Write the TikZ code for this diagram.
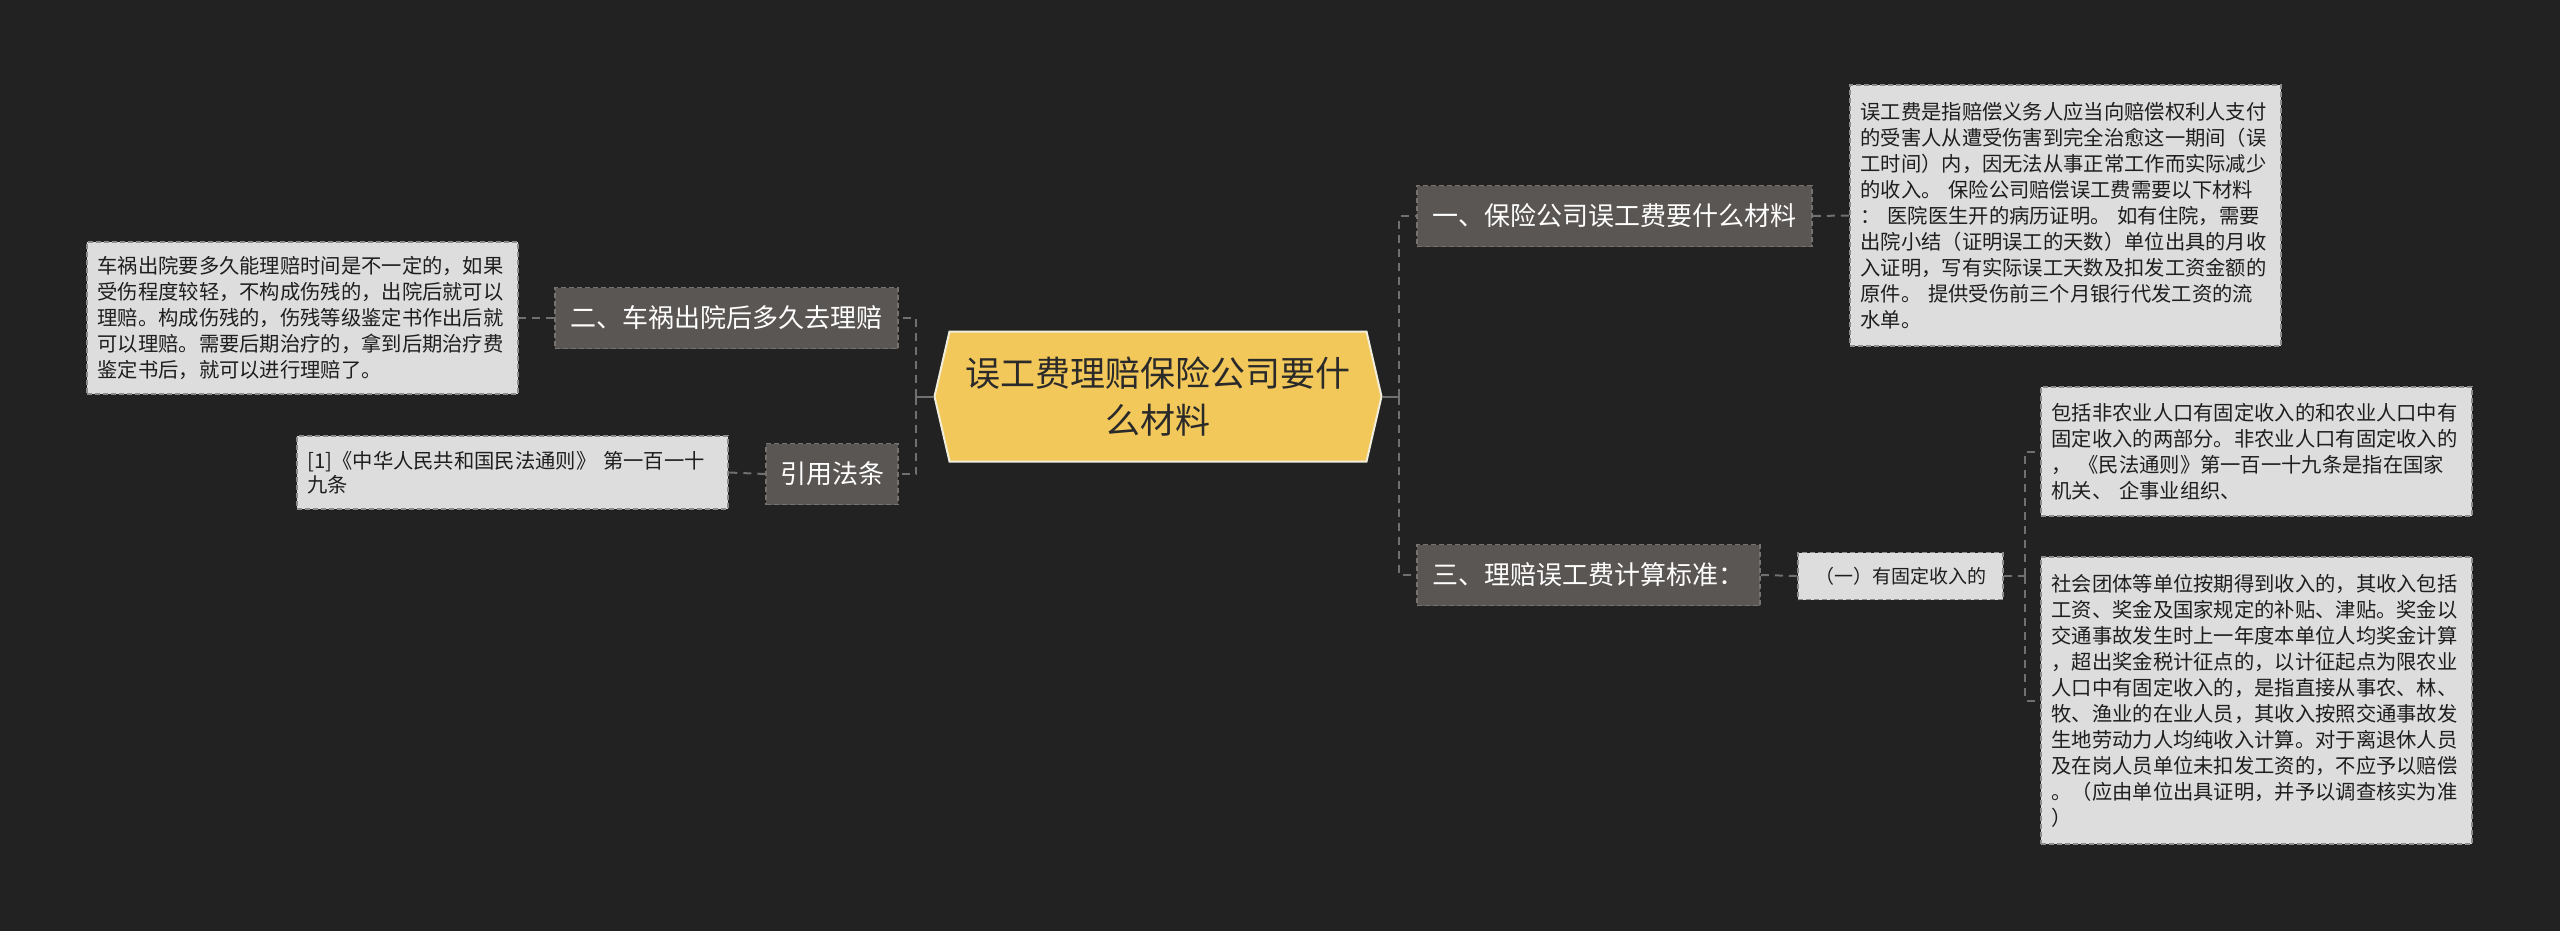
\documentclass[tikz,border=0pt]{standalone}
\usepackage{fontspec}
\setmainfont{Noto Sans CJK SC}
\usepackage{xcolor}
\usepackage{tikz}
\usetikzlibrary{shapes.symbols}
\definecolor{bgdark}{HTML}{222222}
\definecolor{rootfill}{HTML}{F3C85B}
\definecolor{rootline}{HTML}{F2EEDC}
\definecolor{rootink}{HTML}{2A2A2A}
\definecolor{branchfill}{HTML}{5A5654}
\definecolor{branchline}{HTML}{76726F}
\definecolor{leaffill}{HTML}{DDDDDD}
\definecolor{leafline}{HTML}{8C8C8C}
\definecolor{leafink}{HTML}{1E1E1E}
\definecolor{linkgray}{HTML}{707070}

\begin{document}
\begin{tikzpicture}[x=1pt, y=-1pt,
    root/.style={shape=signal, signal to=west and east, signal pointer angle=154,
      fill=rootfill, draw=rootline, line width=2pt, text=rootink, align=center,
      font=\fontsize{35}{47}\selectfont, minimum width=447pt, minimum height=130pt, inner sep=0pt},
    branch/.style={fill=branchfill, draw=branchline, dash pattern=on 5pt off 3pt, line width=1.5pt,
      text=white, font=\fontsize{26}{30}\selectfont, minimum height=61pt, inner sep=0pt},
    leaf/.style={fill=leaffill, draw=leafline, dash pattern=on 5pt off 3pt, line width=1.5pt,
      text=leafink, font=\fontsize{20.3}{26}\selectfont, align=left, text width=410pt,
      inner xsep=10.5pt, inner ysep=10pt},
    link/.style={draw=linkgray, line width=2pt, dash pattern=on 8pt off 6pt}
]

  % Hintergrund
  \fill[bgdark] (0,0) rectangle (2560,931);

  % Hauptthema
  \node[root] (titel) at (1158,396.5) {误工费理赔保险公司要什\\么材料};

  % Aeste rechts
  \node[branch, minimum width=395pt] (ast1) at (1614.5,216) {一、保险公司误工费要什么材料};
  \node[branch, minimum width=343pt] (ast3) at (1588.5,575) {三、理赔误工费计算标准：};
  \node[leaf, text width=, align=center, font=\fontsize{19}{22}\selectfont,
        minimum width=205pt, minimum height=47pt, inner sep=0pt] (fest) at (1900.5,576) {（一）有固定收入的};

  % Aeste links
  \node[branch, minimum width=343pt] (ast2) at (726.5,318) {二、车祸出院后多久去理赔};
  \node[branch, minimum width=132pt] (quelle) at (832,474) {引用法条};

  % Texte rechts
  \node[leaf, minimum height=261pt] (info1) at (2065.5,215.5) {误工费是指赔偿义务人应当向赔偿权利人支付\\的受害人从遭受伤害到完全治愈这一期间（误\\工时间）内，因无法从事正常工作而实际减少\\的收入。 保险公司赔偿误工费需要以下材料\\： 医院医生开的病历证明。 如有住院，需要\\出院小结（证明误工的天数）单位出具的月收\\入证明，写有实际误工天数及扣发工资金额的\\原件。 提供受伤前三个月银行代发工资的流\\水单。};
  \node[leaf, minimum height=129pt] (info2) at (2256.5,451.5) {包括非农业人口有固定收入的和农业人口中有\\固定收入的两部分。非农业人口有固定收入的\\， 《民法通则》第一百一十九条是指在国家\\机关、 企事业组织、};
  \node[leaf, minimum height=287pt] (info3) at (2256.5,700.5) {社会团体等单位按期得到收入的，其收入包括\\工资、奖金及国家规定的补贴、津贴。奖金以\\交通事故发生时上一年度本单位人均奖金计算\\，超出奖金税计征点的，以计征起点为限农业\\人口中有固定收入的，是指直接从事农、林、\\牧、渔业的在业人员，其收入按照交通事故发\\生地劳动力人均纯收入计算。对于离退休人员\\及在岗人员单位未扣发工资的，不应予以赔偿\\。（应由单位出具证明，并予以调查核实为准\\）};

  % Texte links
  \node[leaf, minimum height=152pt] (info4) at (302.5,318) {车祸出院要多久能理赔时间是不一定的，如果\\受伤程度较轻，不构成伤残的，出院后就可以\\理赔。构成伤残的，伤残等级鉴定书作出后就\\可以理赔。需要后期治疗的，拿到后期治疗费\\鉴定书后，就可以进行理赔了。};
  \node[leaf, minimum height=73pt, font=\fontsize{20.3}{24}\selectfont] (info5) at (512.5,472.5) {[1]《中华人民共和国民法通则》 第一百一十\\九条};

  % Verbindungen
  \coordinate (rechts) at (1399,396.5);
  \coordinate (links) at (916,396.5);
  \coordinate (gabel) at (2025,576);
  \draw[draw=linkgray, line width=2pt] (titel.east) -- (rechts);
  \draw[draw=linkgray, line width=2pt] (titel.west) -- (links);
  \draw[link] (rechts) |- (ast1.west);
  \draw[link] (rechts) |- (ast3.west);
  \draw[link] (links) |- (ast2.east);
  \draw[link] (links) |- (quelle.east);
  \draw[link] (ast1.east) -- (info1.west);
  \draw[link] (ast3.east) -- (fest.west);
  \draw[link] (fest.east) -- (gabel);
  \draw[link] (gabel) |- (info2.west);
  \draw[link] (gabel) |- (info3.west);
  \draw[link] (ast2.west) -- (info4.east);
  \draw[link] (quelle.west) -- (info5.east);

\end{tikzpicture}
\end{document}
